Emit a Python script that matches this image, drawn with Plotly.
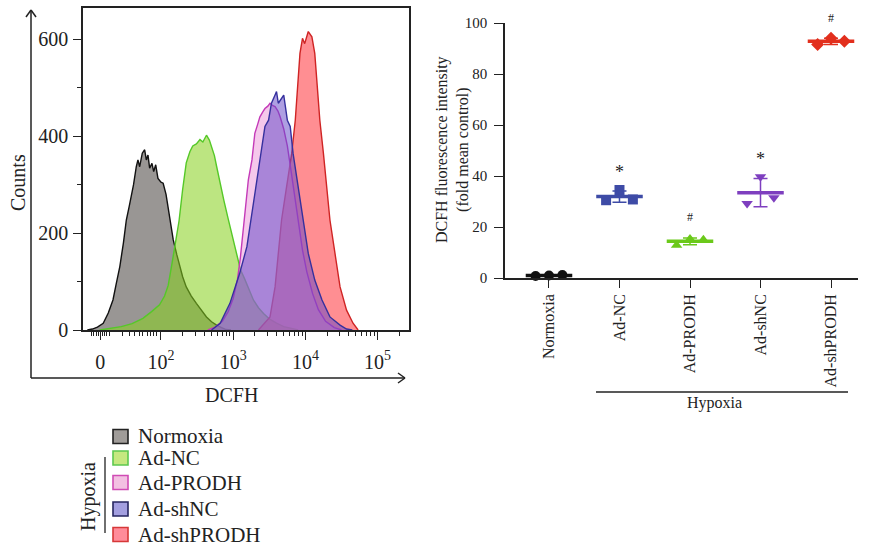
import numpy as np
import plotly.graph_objects as go

W, H = 869, 550
FONT = "Liberation Serif"
INK = "#222222"

# ---------------- Flow-cytometry histogram data ----------------
# x is in display units of the biexponential axis: 10^k sits at k, "0" sits at 1.16
normoxia_x = [0.98, 1.05, 1.12, 1.20, 1.27, 1.335, 1.38, 1.43, 1.48, 1.52, 1.56, 1.59, 1.62,
              1.658, 1.681, 1.705, 1.741, 1.774, 1.797, 1.82, 1.843, 1.875, 1.899, 1.927, 1.958,
              2.0, 2.03, 2.07, 2.10, 2.14, 2.17, 2.22, 2.26, 2.30, 2.35, 2.42, 2.49, 2.56, 2.63,
              2.70, 2.77, 2.84, 2.90, 2.97]
normoxia_y = [0, 2, 6, 14, 35, 62, 95, 131, 180, 227, 255, 275, 300,
              337, 351, 337, 365, 372, 351, 361, 334, 344, 327, 341, 313,
              305, 303, 280, 254, 218, 186, 155, 131, 110, 89, 70, 55, 40, 27,
              17, 10, 5, 1, 0]

adnc_x = [1.15, 1.30, 1.45, 1.60, 1.75, 1.87, 1.98, 2.05, 2.10, 2.15, 2.20, 2.25, 2.30, 2.35,
          2.40, 2.44, 2.49, 2.54, 2.58, 2.63, 2.67, 2.70, 2.74, 2.77, 2.82, 2.87, 2.93, 2.98,
          3.04, 3.10, 3.16, 3.22, 3.28, 3.35, 3.42, 3.50, 3.60, 3.70, 3.80, 3.90]
adnc_y = [0, 3, 7, 13, 24, 38, 52, 70, 92, 135, 185, 225, 290, 345,
          368, 380, 384, 393, 388, 402, 392, 378, 360, 338, 300, 268, 230, 200,
          158, 125, 105, 85, 62, 46, 34, 23, 14, 7, 3, 0]

adprodh_x = [2.65, 2.75, 2.85, 2.93, 3.00, 3.06, 3.10, 3.14, 3.18, 3.21, 3.26, 3.30, 3.34,
             3.37, 3.41, 3.44, 3.48, 3.51, 3.55, 3.58, 3.62, 3.65, 3.70, 3.75, 3.80, 3.85,
             3.90, 3.96, 4.02, 4.10, 4.18, 4.28, 4.40, 4.50]
adprodh_y = [0, 6, 18, 38, 65, 105, 150, 213, 270, 310, 351, 406, 425,
             440, 450, 457, 462, 468, 463, 461, 452, 440, 415, 380, 330, 275,
             220, 165, 120, 75, 42, 18, 5, 0]

adshnc_x = [2.70, 2.82, 2.955, 3.09, 3.19, 3.26, 3.33, 3.40, 3.44, 3.49, 3.53, 3.58, 3.60,
            3.625, 3.66, 3.70, 3.75, 3.79, 3.83, 3.90, 3.97, 4.04, 4.13, 4.23, 4.34, 4.48,
            4.57, 4.65]
adshnc_y = [0, 14, 55, 117, 172, 241, 310, 378, 420, 433, 468, 485, 492,
            468, 475, 485, 433, 420, 364, 296, 227, 158, 103, 62, 27, 10,
            2, 0]

adshprodh_x = [3.35, 3.51, 3.58, 3.625, 3.67, 3.74, 3.81, 3.86, 3.89, 3.925, 3.96, 3.99, 4.04,
               4.09, 4.13, 4.16, 4.20, 4.25, 4.295, 4.34, 4.41, 4.48, 4.57, 4.66, 4.73]
adshprodh_y = [0, 27, 89, 158, 227, 296, 364, 433, 502, 571, 602, 591, 616,
               605, 571, 502, 433, 364, 296, 227, 158, 89, 41, 14, 0]

hist_x_ticks = [1.16, 2, 3, 4, 5]
hist_x_ticktext = ["0", "10<sup>2</sup>", "10<sup>3</sup>", "10<sup>4</sup>", "10<sup>5</sup>"]
hist_y_ticks = [0, 200, 400, 600]
hist_y_minor = [100, 300, 500]

# ---------------- DCFH fluorescence dot-plot data ----------------
groups = ["Normoxia", "Ad-NC", "Ad-PRODH", "Ad-shNC", "Ad-shPRODH"]
normoxia_vals = [0.8, 1.0, 1.2]
ad_nc_vals = [30.5, 34.5, 30.8]
ad_prodh_vals = [12.8, 15.3, 15.0]
ad_shnc_vals = [29.2, 39.7, 31.5]
ad_shprodh_vals = [91.6, 94.0, 92.8]
sig_labels = ["", "*", "#", "*", "#"]
dot_y_ticks = [0, 20, 40, 60, 80, 100]
dot_y_range = [0, 100]


def px(x):
    return x / W


def py(y):
    return 1 - y / H


HIST_DOM_X = [px(83), px(409)]
HIST_DOM_Y = [py(330), py(8)]
DOT_DOM_X = [px(505), px(858)]
DOT_DOM_Y = [py(278), py(23)]
DOT_X_RANGE = [-0.624, 4.383]

fig = go.Figure()

# ---------------- histogram traces ----------------
hist_series = [
    (normoxia_x, normoxia_y, "rgba(95,90,87,0.64)", "#111111"),
    (adnc_x, adnc_y, "rgba(135,208,30,0.56)", "#55C828"),
    (adshprodh_x, adshprodh_y, "rgba(255,88,95,0.68)", "#CF2424"),
    (adprodh_x, adprodh_y, "rgba(235,145,215,0.5)", "#C43AB8"),
    (adshnc_x, adshnc_y, "rgba(100,70,200,0.52)", "#35309E"),
]
for xs, ys, fc, lc in hist_series:
    fig.add_trace(go.Scatter(x=xs, y=ys, mode="lines", fill="tozeroy", fillcolor=fc,
                             line=dict(color=lc, width=1.4), xaxis="x", yaxis="y",
                             showlegend=False, hoverinfo="skip"))

# minor tick positions of the biexponential axis (decoration)
minor_x = [1.04, 1.07, 1.10, 1.13, 1.19, 1.22, 1.25, 1.29,
           1.47, 1.56, 1.63, 1.70, 1.75, 1.81, 1.86, 1.90, 1.94]
for k in (2, 3, 4):
    minor_x += [k + np.log10(m) for m in range(2, 10)]
minor_x += [5 + np.log10(2)]

# ---------------- dot plot traces ----------------
dot_vals = [normoxia_vals, ad_nc_vals, ad_prodh_vals, ad_shnc_vals, ad_shprodh_vals]
dot_colors = ["#111111", "#3E4BA6", "#6BC91A", "#7E3FBF", "#E22F1D"]
dot_symbols = ["circle", "square", "triangle-up", "triangle-down", "diamond"]
offsets = [-0.19, 0.0, 0.19]


def y2_to_paper(v):
    f = (v - dot_y_range[0]) / (dot_y_range[1] - dot_y_range[0])
    return DOT_DOM_Y[0] + f * (DOT_DOM_Y[1] - DOT_DOM_Y[0])


def x2_to_paper(v):
    f = (v - DOT_X_RANGE[0]) / (DOT_X_RANGE[1] - DOT_X_RANGE[0])
    return DOT_DOM_X[0] + f * (DOT_DOM_X[1] - DOT_DOM_X[0])


for i, (vals, col, sym) in enumerate(zip(dot_vals, dot_colors, dot_symbols)):
    vals = np.array(vals)
    mean = vals.mean()
    sd = vals.std(ddof=1)
    fig.add_trace(go.Scatter(x=[i + o for o in offsets], y=vals, mode="markers",
                             marker=dict(symbol=sym, size=10, color=col, line=dict(width=0)),
                             xaxis="x2", yaxis="y2", showlegend=False, cliponaxis=False,
                             hoverinfo="skip"))
    fig.add_trace(go.Scatter(x=[i - 0.33, i + 0.33], y=[mean, mean], mode="lines",
                             line=dict(color=col, width=3.5), xaxis="x2", yaxis="y2",
                             showlegend=False, cliponaxis=False, hoverinfo="skip"))
    fig.add_trace(go.Scatter(x=[i], y=[mean], mode="markers", marker=dict(size=2, opacity=0),
                             error_y=dict(type="data", array=[sd], color=col, thickness=1.5, width=7),
                             xaxis="x2", yaxis="y2", showlegend=False, cliponaxis=False,
                             hoverinfo="skip"))
    if sig_labels[i]:
        star = sig_labels[i] == "*"
        fig.add_annotation(x=x2_to_paper(i), y=y2_to_paper(mean + sd + (7.5 if star else 8)),
                           xref="paper", yref="paper", xanchor="center", yanchor="middle",
                           text=sig_labels[i], showarrow=False,
                           font=dict(family=FONT, size=18 if star else 12, color=INK))

axis_common = dict(showline=True, linecolor=INK, linewidth=1.5, ticks="outside",
                   tickcolor=INK, tickwidth=1.3, showgrid=False, zeroline=False,
                   automargin=False)

fig.update_layout(
    width=W, height=H, margin=dict(l=0, r=0, t=0, b=0, pad=0, autoexpand=False),
    paper_bgcolor="white", plot_bgcolor="white", showlegend=False,
    font=dict(family=FONT, color=INK),
    xaxis=dict(domain=HIST_DOM_X, range=[0.92, 5.435], anchor="y", mirror=True,
               tickmode="array", tickvals=hist_x_ticks, ticktext=hist_x_ticktext, ticklen=8,
               tickfont=dict(family=FONT, size=20, color=INK), ticklabelstandoff=5,
               minor=dict(tickmode="array", tickvals=minor_x, ticklen=4, tickwidth=1,
                          tickcolor=INK, showgrid=False),
               **axis_common),
    yaxis=dict(domain=HIST_DOM_Y, range=[0, 664.6], anchor="x", mirror=True,
               tickmode="array", tickvals=hist_y_ticks, ticklen=8,
               tickfont=dict(family=FONT, size=20, color=INK), ticklabelstandoff=1,
               minor=dict(tickmode="array", tickvals=hist_y_minor, ticklen=4, tickwidth=1,
                          tickcolor=INK, showgrid=False),
               **axis_common),
    xaxis2=dict(domain=DOT_DOM_X, range=DOT_X_RANGE, anchor="y2",
                tickmode="array", tickvals=list(range(len(groups))), ticktext=groups,
                tickangle=-90, ticklen=8, ticklabelstandoff=0,
                tickfont=dict(family=FONT, size=16, color=INK), **axis_common),
    yaxis2=dict(domain=DOT_DOM_Y, range=dot_y_range, anchor="x2",
                tickmode="array", tickvals=dot_y_ticks, ticklen=9, ticklabelstandoff=4,
                tickfont=dict(family=FONT, size=15, color=INK), **axis_common),
)

shapes = []


def line(x0, y0, x1, y1, color=INK, width=1.5):
    shapes.append(dict(type="line", xref="paper", yref="paper", x0=px(x0), y0=py(y0),
                       x1=px(x1), y1=py(y1), line=dict(color=color, width=width)))


def label(x, y, text, size, angle=0, xanchor="center"):
    fig.add_annotation(x=px(x), y=py(y), xref="paper", yref="paper", text=text,
                       xanchor=xanchor, yanchor="middle", textangle=angle, showarrow=False,
                       font=dict(family=FONT, size=size, color=INK))


# outer arrows of the histogram panel
line(31, 378, 31, 10)
line(31, 378, 405, 378)
line(26, 17, 31, 10)
line(36, 17, 31, 10)
line(398, 373, 405, 378)
line(398, 383, 405, 378)
# hypoxia bracket on dot plot
line(596, 392, 848, 392, width=1.3)
label(714, 403, "Hypoxia", 16)

# axis titles
label(18, 183, "Counts", 20, angle=-90)
label(232, 395, "DCFH", 20)
label(452, 150, "DCFH fluorescence intensity<br>(fold mean control)", 16, angle=-90)

# legend of the histogram
legend_fill = ["#A09C99", "#C6E880", "#F3C0E2", "#A39FE0", "#FF8C9A"]
legend_edge = ["#222222", "#5DC84F", "#D04BB5", "#262660", "#D63838"]
legend_rows = [436.5, 458, 482.5, 509, 534.5]
for name, fc, ec, cy in zip(groups, legend_fill, legend_edge, legend_rows):
    shapes.append(dict(type="rect", xref="paper", yref="paper", x0=px(113), x1=px(128),
                       y0=py(cy + 7), y1=py(cy - 7), fillcolor=fc, line=dict(color=ec, width=1.6)))
    label(136, cy, name, 21, xanchor="left")
line(105, 457, 105, 533, width=1.3)
label(88, 497, "Hypoxia", 20, angle=-90)

fig.update_layout(shapes=shapes)
fig.write_html("out.html", config={"displayModeBar": False},
               post_script="document.body.style.margin='0';document.body.style.overflow='hidden';")
